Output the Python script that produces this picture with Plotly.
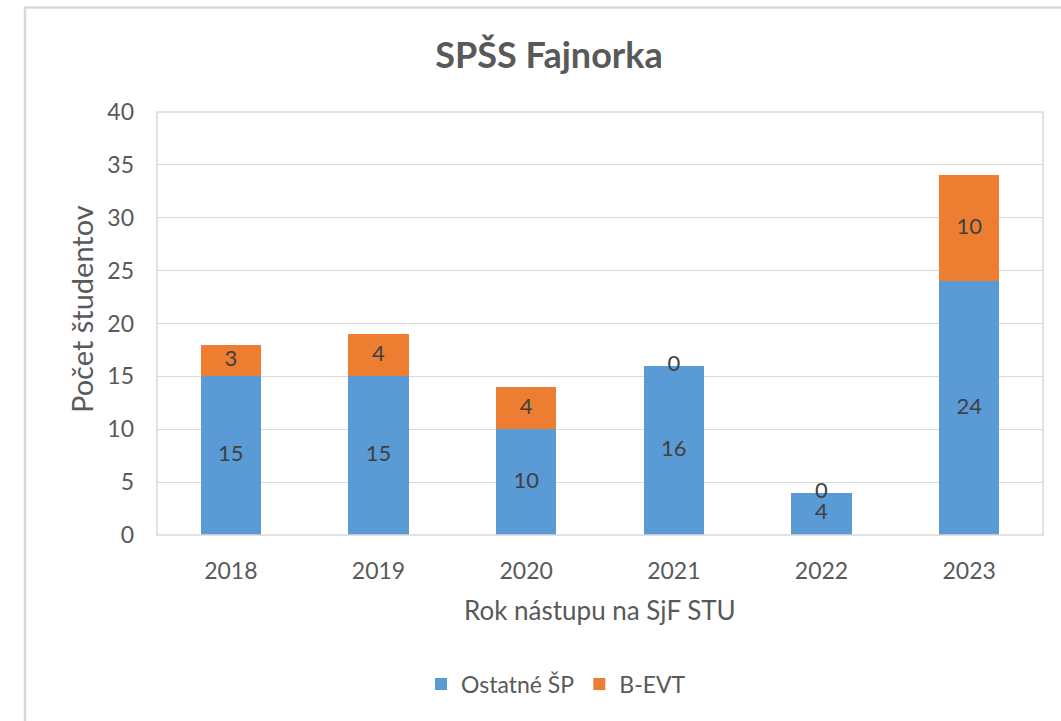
import plotly.graph_objects as go

years = ["2018", "2019", "2020", "2021", "2022", "2023"]
ostatne = [15, 15, 10, 16, 4, 24]
bevt = [3, 4, 4, 0, 0, 10]
series_names = ["Ostatné ŠP", "B-EVT"]
colors = ["#5B9BD5", "#ED7D31"]

FONT = "Lato, 'Open Sans', sans-serif"
W, H = 1061, 721
PL, PR, PT, PB = 157, 1043, 112, 535  # plot area in pixels
L, R, T, B = PL, W - PR, PT, H - PB

fig = go.Figure()
fig.add_trace(go.Bar(x=years, y=ostatne, name=series_names[0], marker_color=colors[0],
                     marker_line_width=0, width=0.41, hoverinfo="y"))
fig.add_trace(go.Bar(x=years, y=bevt, name=series_names[1], marker_color=colors[1],
                     marker_line_width=0, width=0.41, hoverinfo="y"))

# data labels centred in each stacked segment (including zero-height ones)
lab_x, lab_y, lab_t = [], [], []
for i, yr in enumerate(years):
    lab_x.append(yr); lab_y.append(ostatne[i] / 2); lab_t.append(str(ostatne[i]))
    lab_x.append(yr); lab_y.append(ostatne[i] + bevt[i] / 2); lab_t.append(str(bevt[i]))
fig.add_trace(go.Scatter(x=lab_x, y=lab_y, text=lab_t, mode="text", showlegend=False,
                         textfont=dict(family=FONT, size=22, color="#404040"),
                         hoverinfo="skip"))

ph = PB - PT
pw = PR - PL
def px_x(px):
    return (px - PL) / pw
def px_y(py):
    return (PB - py) / ph

fig.update_layout(
    width=W, height=H,
    margin=dict(l=L, r=R, t=T, b=B),
    barmode="stack",
    plot_bgcolor="white", paper_bgcolor="white",
    font=dict(family=FONT, color="#595959"),
    title=dict(text="<b>SPŠS Fajnorka</b>", font=dict(family=FONT, size=36, color="#595959"),
               x=px_x(549), xref="paper", xanchor="center",
               y=1 - 55 / H, yref="container", yanchor="middle"),
    showlegend=True,
    legend=dict(orientation="h", x=px_x(556), xanchor="center",
                y=px_y(684), yanchor="middle",
                font=dict(family=FONT, size=23, color="#595959"),
                itemwidth=30, traceorder="normal"),
    xaxis=dict(
        showgrid=False, showline=False, zeroline=False,
        tickfont=dict(family=FONT, size=23, color="#595959"),
        ticks="", ticklabelstandoff=20,
    ),
    yaxis=dict(
        range=[0, 40], dtick=5, showgrid=True, gridcolor="#D9D9D9", gridwidth=1,
        zeroline=False, showline=False,
        tickfont=dict(family=FONT, size=23, color="#595959"),
        ticks="", ticklabelstandoff=22,
    ),
    annotations=[
        dict(text="Rok nástupu na SjF STU", xref="paper", yref="paper",
             x=px_x(600), y=px_y(610), xanchor="center", yanchor="middle",
             showarrow=False, font=dict(family=FONT, size=26, color="#595959")),
        dict(text="Počet študentov", xref="paper", yref="paper", textangle=-90,
             x=px_x(81), y=px_y(309), xanchor="center", yanchor="middle",
             showarrow=False, font=dict(family=FONT, size=29, color="#595959")),
    ],
    shapes=[
        # plot area border
        dict(type="rect", xref="paper", yref="paper", x0=0, x1=1, y0=0, y1=1,
             line=dict(color="#D9D9D9", width=1.5), layer="above"),
        # outer chart border (extends beyond the visible window on right/bottom)
        dict(type="rect", xref="paper", yref="paper",
             x0=px_x(25), x1=px_x(1200),
             y0=px_y(900), y1=px_y(7.5),
             line=dict(color="#D9D9D9", width=2.5), layer="above"),
    ],
)

fig.write_html("out.html", config={"displayModeBar": False},
               post_script="document.body.style.margin='0';document.body.style.padding='0';")
